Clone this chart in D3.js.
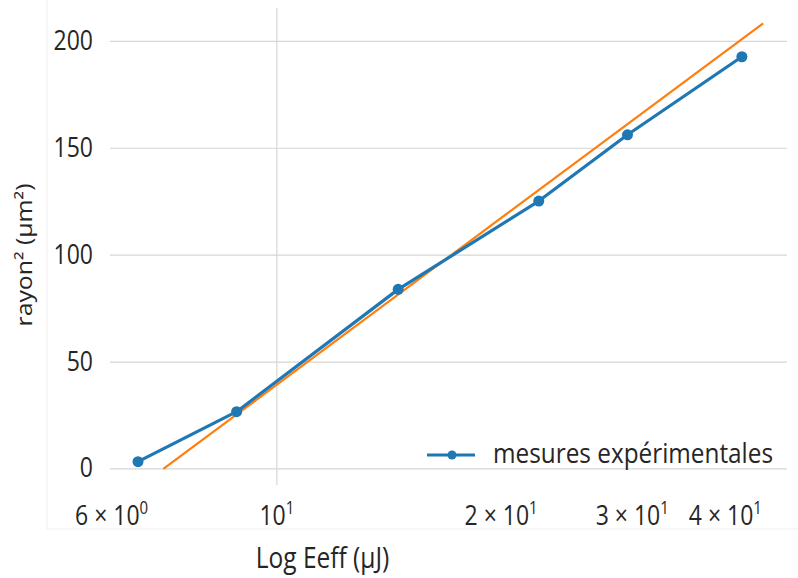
<!DOCTYPE html>
<html>
<head>
<meta charset="utf-8">
<script src="https://cdn.jsdelivr.net/npm/d3@7"></script>
<style>
  html, body { margin: 0; padding: 0; background: #ffffff; }
  svg { display: block; }
  text { font-family: "Open Sans", "Noto Sans", sans-serif; fill: #262626; }
</style>
</head>
<body>
<svg id="chart" width="798" height="578"></svg>
<script>
// ---- data ----
const energies = [6.51, 8.83, 14.55, 22.47, 29.56, 42.1];      // Eeff (µJ)
const radiusSq = [3.4, 26.8, 84.0, 125.3, 156.3, 192.8];         // rayon² (µm²)
const fitEnergies = [7.04, 44.96];                               // fitted line ends
const fitRadiusSq = [0, 208.4];
const xTicks = [6, 10, 20, 30, 40];
const xTickMantissa = ["6 × 10", "10", "2 × 10", "3 × 10", "4 × 10"];
const xTickExponent = ["0", "1", "1", "1", "1"];
const yTicks = [0, 50, 100, 150, 200];
const seriesName = "mesures expérimentales";
const xLabel = "Log Eeff (µJ)";
const yLabel = "rayon² (µm²)";

// ---- layout ----
const svg = d3.select("#chart");
const SY = 1.18; // vertical text stretch seen in the reference
const x = d3.scaleLog().domain([5.97, 48.4]).range([110, 787]);
const y = d3.scaleLinear().domain([-7.5, 215.6]).range([485, 8]);

// faint figure frame
svg.append("line").attr("x1", 47).attr("x2", 47).attr("y1", 0).attr("y2", 529)
  .attr("stroke", "#efefef").attr("stroke-width", 1);
svg.append("line").attr("x1", 47).attr("x2", 798).attr("y1", 529).attr("y2", 529)
  .attr("stroke", "#efefef").attr("stroke-width", 1);

// grid
const grid = svg.append("g");
grid.selectAll("line.h").data(yTicks).join("line")
  .attr("x1", x.range()[0]).attr("x2", x.range()[1])
  .attr("y1", d => y(d)).attr("y2", d => y(d))
  .attr("stroke", "#d6d6d6").attr("stroke-width", 1.2);
grid.selectAll("line.v").data([10]).join("line")
  .attr("x1", d => x(d)).attr("x2", d => x(d))
  .attr("y1", y.range()[1]).attr("y2", y.range()[0])
  .attr("stroke", "#d6d6d6").attr("stroke-width", 1.2);

function stretchedText(parent, tx, ty, rotate) {
  const g = parent.append("g")
    .attr("transform", `translate(${tx},${ty})` + (rotate ? ` rotate(${rotate})` : "") + (rotate ? ` scale(${SY},1)` : ` scale(1,${SY})`));
  return g.append("text");
}

// y tick labels
yTicks.forEach(v => {
  stretchedText(svg, 93, y(v) + 8.5)
    .attr("text-anchor", "end").attr("font-size", 23).text(v);
});

// x tick labels
xTicks.forEach((v, i) => {
  const t = stretchedText(svg, x(v), 525)
    .attr("text-anchor", "middle").attr("font-size", 23);
  t.append("tspan").text(xTickMantissa[i]);
  t.append("tspan").attr("font-size", 15).attr("dy", -9).text(xTickExponent[i]);
});

// axis labels
stretchedText(svg, 322.5, 568)
  .attr("text-anchor", "middle").attr("font-size", 24.5).text(xLabel);
stretchedText(svg, 32, 255, -90)
  .attr("text-anchor", "middle").attr("font-size", 21).text(yLabel);

// fitted line
const line = d3.line().x(d => x(d[0])).y(d => y(d[1]));
svg.append("path")
  .datum(fitEnergies.map((e, i) => [e, fitRadiusSq[i]]))
  .attr("d", line).attr("fill", "none")
  .attr("stroke", "#ff7f0e").attr("stroke-width", 2.2);

// measured series
const pts = energies.map((e, i) => [e, radiusSq[i]]);
svg.append("path").datum(pts).attr("d", line).attr("fill", "none")
  .attr("stroke", "#1f77b4").attr("stroke-width", 3.2).attr("stroke-linejoin", "round");
svg.selectAll("circle.pt").data(pts).join("circle")
  .attr("cx", d => x(d[0])).attr("cy", d => y(d[1])).attr("r", 5.5)
  .attr("fill", "#1f77b4");

// legend
const lg = svg.append("g");
lg.append("line").attr("x1", 427).attr("x2", 475).attr("y1", 455).attr("y2", 455)
  .attr("stroke", "#1f77b4").attr("stroke-width", 3.2);
lg.append("circle").attr("cx", 452).attr("cy", 455).attr("r", 4.5).attr("fill", "#1f77b4");
const lt = stretchedText(lg, 493, 463).attr("font-size", 23).text(seriesName);
const w = lt.node().getComputedTextLength();
if (w > 0) lt.attr("textLength", 280).attr("lengthAdjust", "spacingAndGlyphs");
</script>
</body>
</html>
